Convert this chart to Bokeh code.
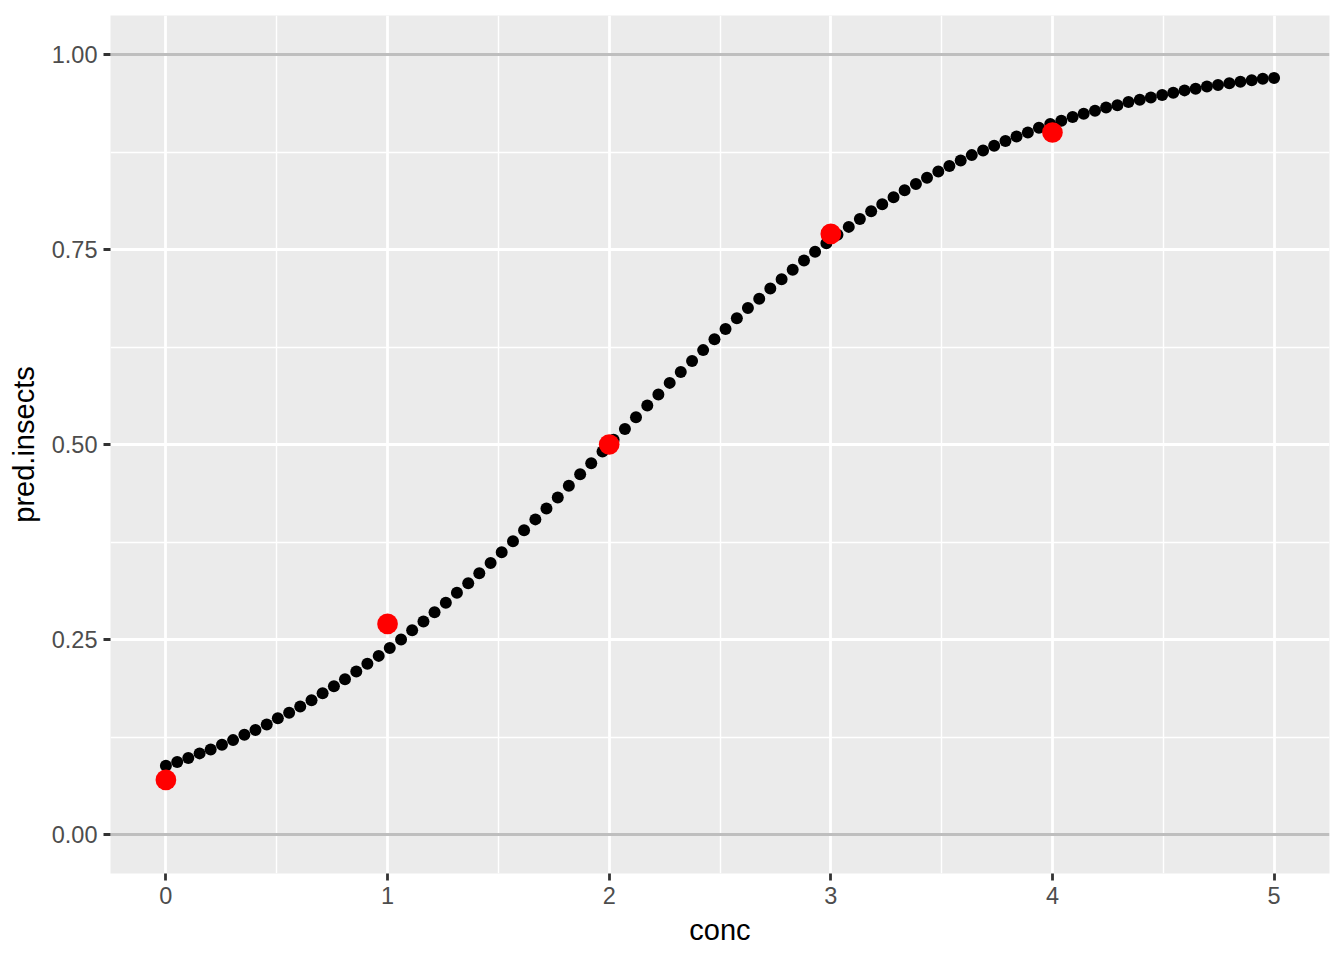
from bokeh.plotting import figure
from bokeh.models import Range1d, FixedTicker, NumeralTickFormatter, ColumnDataSource
from bokeh.embed import file_html
from bokeh.resources import INLINE

# prediction grid (conc) and fitted values (pred.insects)
pred_conc = [
    0.000, 0.051, 0.101, 0.152, 0.202, 0.253, 0.303, 0.354, 0.404, 0.455,
    0.505, 0.556, 0.606, 0.657, 0.707, 0.758, 0.808, 0.859, 0.909, 0.960,
    1.010, 1.061, 1.111, 1.162, 1.212, 1.263, 1.313, 1.364, 1.414, 1.465,
    1.515, 1.566, 1.616, 1.667, 1.717, 1.768, 1.818, 1.869, 1.919, 1.970,
    2.020, 2.071, 2.121, 2.172, 2.222, 2.273, 2.323, 2.374, 2.424, 2.475,
    2.525, 2.576, 2.626, 2.677, 2.727, 2.778, 2.828, 2.879, 2.929, 2.980,
    3.030, 3.081, 3.131, 3.182, 3.232, 3.283, 3.333, 3.384, 3.434, 3.485,
    3.535, 3.586, 3.636, 3.687, 3.737, 3.788, 3.838, 3.889, 3.939, 3.990,
    4.040, 4.091, 4.141, 4.192, 4.242, 4.293, 4.343, 4.394, 4.444, 4.495,
    4.545, 4.596, 4.646, 4.697, 4.747, 4.798, 4.848, 4.899, 4.949, 5.000,
]
pred_insects = [
    0.088, 0.093, 0.098, 0.104, 0.109, 0.115, 0.121, 0.128, 0.134, 0.141,
    0.149, 0.156, 0.164, 0.172, 0.181, 0.190, 0.199, 0.209, 0.219, 0.229,
    0.239, 0.250, 0.262, 0.273, 0.285, 0.297, 0.310, 0.322, 0.335, 0.348,
    0.362, 0.376, 0.390, 0.404, 0.418, 0.432, 0.447, 0.462, 0.476, 0.491,
    0.506, 0.520, 0.535, 0.550, 0.564, 0.579, 0.593, 0.607, 0.621, 0.635,
    0.648, 0.662, 0.675, 0.687, 0.700, 0.712, 0.724, 0.736, 0.747, 0.758,
    0.769, 0.779, 0.789, 0.799, 0.808, 0.817, 0.826, 0.834, 0.842, 0.850,
    0.857, 0.864, 0.871, 0.877, 0.883, 0.889, 0.895, 0.900, 0.906, 0.911,
    0.915, 0.920, 0.924, 0.928, 0.932, 0.935, 0.939, 0.942, 0.945, 0.948,
    0.951, 0.954, 0.956, 0.959, 0.961, 0.963, 0.965, 0.967, 0.969, 0.970,
]

# observed data
obs_conc = [0, 1, 2, 3, 4]
obs_insects = [0.07, 0.27, 0.50, 0.77, 0.90]

# reference lines
hline_levels = [0.0, 1.0]

# axes
x_breaks = [0, 1, 2, 3, 4, 5]
x_minor = [0.5, 1.5, 2.5, 3.5, 4.5]
y_breaks = [0.0, 0.25, 0.5, 0.75, 1.0]
y_minor = [0.125, 0.375, 0.625, 0.875]

FONT = "Liberation Sans"

p = figure(
    frame_width=1219, frame_height=858,
    min_border_left=110, min_border_right=4, min_border_top=15, min_border_bottom=85,
    x_range=Range1d(-0.25, 5.25), y_range=Range1d(-0.05, 1.05),
    output_backend="svg", toolbar_location=None,
)
p.background_fill_color = "#EBEBEB"
p.border_fill_color = "white"
p.outline_line_color = None

p.xaxis.ticker = FixedTicker(ticks=x_breaks, minor_ticks=x_minor)
p.yaxis.ticker = FixedTicker(ticks=y_breaks, minor_ticks=y_minor)
p.yaxis.formatter = NumeralTickFormatter(format="0.00")

for g in (p.xgrid, p.ygrid):
    g.grid_line_color = "white"
    g.grid_line_width = 2.8
    g.minor_grid_line_color = "white"
    g.minor_grid_line_width = 1.4

for ax in (p.xaxis, p.yaxis):
    ax.axis_line_color = None
    ax.major_tick_line_color = "#333333"
    ax.major_tick_line_width = 2.8
    ax.major_tick_out = 7
    ax.major_tick_in = 0
    ax.minor_tick_line_color = None
    ax.major_label_text_font = FONT
    ax.major_label_text_font_size = "23.5px"
    ax.major_label_text_color = "#4D4D4D"
    ax.axis_label_text_font = FONT
    ax.axis_label_text_font_size = "29px"
    ax.axis_label_text_color = "black"
    ax.axis_label_text_font_style = "normal"

p.xaxis.axis_label = "conc"
p.yaxis.axis_label = "pred.insects"
p.xaxis.major_label_standoff = 6
p.xaxis.axis_label_standoff = 7
p.yaxis.major_label_standoff = 6
p.yaxis.axis_label_standoff = 9

p.hspan(y=hline_levels, line_color="#BEBEBE", line_width=2.8)

pred_src = ColumnDataSource(dict(conc=pred_conc, insects=pred_insects))
obs_src = ColumnDataSource(dict(conc=obs_conc, insects=obs_insects))

p.scatter("conc", "insects", source=pred_src, size=12, fill_color="black", line_color=None)
p.scatter("conc", "insects", source=obs_src, size=20.7, fill_color="#FF0000", line_color=None)

open("out.html", "w").write(file_html(p, INLINE))
